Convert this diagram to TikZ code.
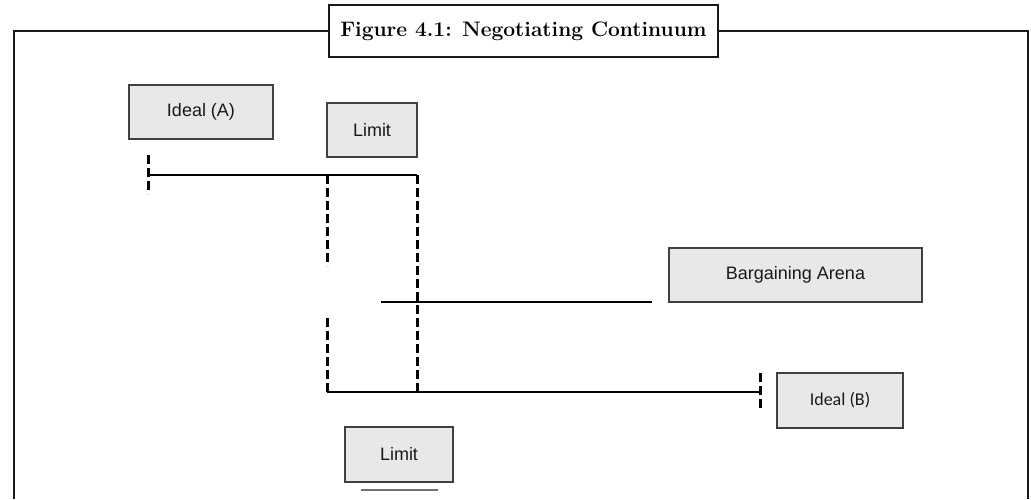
\documentclass[tikz,border=0pt]{standalone}
\usepackage{fontspec}
\newfontfamily\boxfont{Liberation Sans}
\newfontfamily\calfont{Carlito}
\begin{document}
\begin{tikzpicture}[x=1pt,y=-1pt,
  box/.style={draw=black!75, line width=1.3pt, fill=black!9, inner sep=0pt,
              text=black!90, font=\boxfont\fontsize{18}{21}\selectfont},
  axis/.style={line width=1.7pt},
  guide/.style={line width=3pt, dash pattern=on 9pt off 4pt},
  frame/.style={line width=2.5pt, draw=black!90}]
\useasboundingbox (0,0) rectangle (1031,499);

% open frame with the caption sitting on its top edge
\draw[frame] (14,499) -- (14,31) -- (1028,31) -- (1028,499);
\node[frame, draw, fill=white, minimum width=389pt, minimum height=52pt, inner sep=0pt,
      font=\bfseries\fontsize{21}{24}\selectfont] (title) at (523.5,31)
      {Figure 4.1: Negotiating Continuum};

% labelled boxes
\node[box, minimum width=144pt, minimum height=54pt] (idealA) at (201,112) {Ideal (A)};
\node[box, minimum width=90pt, minimum height=54pt] (limitA) at (372,130) {Limit};
\node[box, minimum width=253pt, minimum height=54pt] (arena) at (795.5,275) {Bargaining Arena};
\node[box, minimum width=126pt, minimum height=55pt, font=\calfont\fontsize{18}{21}\selectfont] (idealB) at (840,400.5) {Ideal (B)};
\node[box, minimum width=108pt, minimum height=55pt] (limitB) at (399,454.5) {Limit};

% points of the continuum
\coordinate (aStart) at (148,175);
\coordinate (aTickTop) at (148,155);
\coordinate (aTickBot) at (148,194);
\coordinate (aLim) at (327,175);
\coordinate (aEnd) at (417,175);
\coordinate (aLimGap) at (327,266);
\coordinate (bLimGap) at (327,318);
\coordinate (bStart) at (327,392);
\coordinate (bLim) at (417,392);
\coordinate (bEnd) at (760,392);
\coordinate (bTickTop) at (760,373);
\coordinate (bTickBot) at (760,410);
\coordinate (midL) at (381,302);
\coordinate (midR) at (652,302);
\coordinate (ulL) at (361,490);
\coordinate (ulR) at (438,490);

% side A range
\draw[axis] (aStart) -- (aEnd);
\draw[guide] (aTickTop) -- (aTickBot);
\draw[guide] (aLim) -- (aLimGap);
\draw[guide] (aEnd) -- (bLim);

% side B range
\draw[axis] (bStart) -- (bEnd);
\draw[guide] (bLimGap) -- (bStart);
\draw[guide] (bTickTop) -- (bTickBot);

% bargaining arena line
\draw[axis] (midL) -- (midR);

% underline beneath the lower limit
\draw[line width=2.5pt, draw=black!55] (ulL) -- (ulR);
\end{tikzpicture}
\end{document}
